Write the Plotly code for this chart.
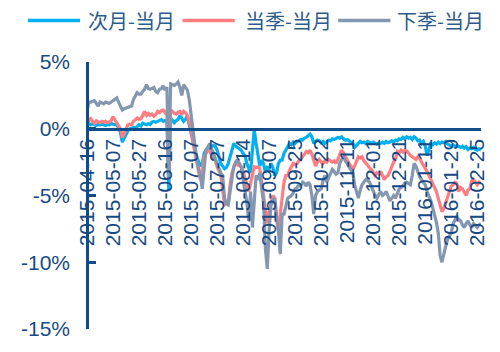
import pandas as pd
import plotly.graph_objects as go

# Trading calendar (SSE/CFFEX), market holidays removed
holidays = ["2015-05-01", "2015-06-22", "2015-09-03", "2015-09-04",
            "2015-10-01", "2015-10-02", "2015-10-05", "2015-10-06", "2015-10-07",
            "2016-01-01", "2016-02-08", "2016-02-09", "2016-02-10", "2016-02-11",
            "2016-02-12"]
dates = [d.strftime("%Y-%m-%d") for d in pd.bdate_range("2015-04-16", "2016-02-29")
         if d.strftime("%Y-%m-%d") not in holidays]

x_tick_labels = ["2015-04-16", "2015-05-07", "2015-05-27", "2015-06-16", "2015-07-07",
                 "2015-07-27", "2015-08-14", "2015-09-07", "2015-09-25", "2015-10-22",
                 "2015-11-11", "2015-12-01", "2015-12-21", "2016-01-11", "2016-01-29",
                 "2016-02-25"]
y_tick_vals = [5, 0, -5, -10, -15]
y_tick_text = ["5%", "0%", "-5%", "-10%", "-15%"]

series_names = ["次月-当月", "当季-当月", "下季-当月"]

# Calendar spreads, % of front-month price
next_month = [
    0.45, 0.35, 0.3, 0.38, 0.3, 0.25, 0.32, 0.28, 0.35, 0.3,
    0.25, 0.32, 0.3, 0.38, 0.35, 0.3, 0.28, 0.1, -0.3, -1.0,
    -0.7, -0.35, -0.15, 0.0, 0.05, 0.1, 0.05, 0.2, 0.3, 0.2,
    0.42, 0.35, 0.3, 0.38, 0.32, 0.5, 0.55, 0.48, 0.55, 0.6,
    0.68, 0.55, 0.62, 0.55, -4.6, 0.8, 0.65, 0.45, 0.6, 0.7,
    1.0, 0.75, 0.55, 0.7, 1.0, 0.3, -0.4, -1.1, -1.6, -2.1,
    -2.5, -2.8, -2.6, -1.85, -1.6, -1.4, -1.5, -1.4, -1.25, -1.3,
    -1.6, -2.1, -2.6, -2.8, -3.0, -2.9, -2.6, -2.1, -1.6, -1.1,
    -1.3, -1.4, -1.5, -1.6, -1.85, -2.0, -2.6, -3.0, -3.3, -1.6,
    -0.05, -1.1, -2.0, -2.8, -2.35, -2.6, -3.3, -2.9, -3.0, -2.6,
    -2.9, -3.5, -3.3, -2.6, -2.35, -2.35, -1.85, -1.6, -1.4, -1.1,
    -1.2, -1.0, -1.1, -0.95, -0.9, -0.8, -0.85, -0.7, -0.65, -0.55,
    -0.4, -0.6, -1.1, -0.95, -0.85, -0.9, -1.05, -0.95, -1.1, -1.0,
    -0.85, -0.9, -0.75, -0.8, -0.7, -0.65, -0.7, -0.6, -0.75, -0.85,
    -0.8, -0.9, -1.0, -1.1, -1.4, -1.2, -1.1, -0.95, -1.05, -1.0,
    -1.1, -0.95, -1.05, -1.1, -1.0, -1.05, -1.15, -1.05, -1.1, -1.0,
    -1.1, -0.95, -1.05, -1.0, -0.9, -1.0, -0.85, -0.9, -0.75, -0.8,
    -0.65, -0.75, -0.6, -0.7, -0.65, -0.8, -0.6, -0.7, -0.9, -0.85,
    -1.1, -0.95, -1.3, -2.0, -1.6, -1.1, -1.2, -1.05, -1.15, -1.0,
    -1.1, -1.0, -1.05, -0.95, -1.15, -1.2, -1.3, -1.2, -1.35, -1.25,
    -1.3, -1.4, -1.3, -1.45, -1.35, -1.55, -1.45, -1.5, -1.4, -1.55,
    -1.6, -1.5, -1.6,
]

current_quarter = [
    0.9, 0.6, 0.75, 0.55, 0.4, 0.6, 0.55, 0.45, 0.55, 0.5,
    0.55, 0.45, 0.5, 0.6, 0.9, 0.7, 0.5, 0.3, 0.0, -0.65,
    -0.4, 0.0, 0.3, 0.35, 0.3, 0.55, 0.65, 0.8, 0.7, 0.75,
    1.0, 1.3, 1.0, 1.15, 1.0, 1.1, 0.95, 1.05, 1.3, 1.2,
    1.35, 1.4, 1.2, 1.3, -3.8, 1.4, 1.3, 1.15, 1.1, 1.25,
    1.3, 1.05, 1.3, 1.2, 1.0, 0.6, 0.07, -1.0, -1.85, -2.6,
    -3.2, -3.8, -3.3, -2.1, -1.8, -1.6, -1.7, -1.9, -2.1, -2.4,
    -2.85, -3.2, -3.5, -4.6, -5.7, -5.6, -5.5, -4.2, -3.3, -2.9,
    -2.6, -2.7, -2.8, -2.85, -3.2, -3.8, -4.2, -4.7, -4.2, -3.5,
    -2.85, -2.9, -2.85, -3.0, -4.0, -5.2, -6.3, -7.1, -6.2, -5.5,
    -5.0, -5.2, -6.8, -7.6, -6.4, -4.7, -4.0, -3.5, -3.5, -3.1,
    -2.8, -2.6, -2.7, -2.6, -2.4, -2.3, -2.1, -1.9, -1.7, -1.8,
    -1.6, -1.9, -2.3, -2.8, -2.5, -2.3, -2.5, -2.6, -2.4, -2.5,
    -2.3, -2.4, -2.5, -2.4, -2.6, -2.3, -2.0, -1.6, -1.8, -2.1,
    -2.4, -2.6, -2.8, -3.05, -2.8, -2.5, -2.1, -2.2, -2.1, -2.4,
    -2.6, -2.8, -2.9, -3.05, -3.3, -3.5, -3.3, -3.4, -3.2, -3.5,
    -3.8, -3.6, -3.5, -3.2, -2.8, -2.5, -2.3, -1.7, -1.8, -1.6,
    -1.75, -1.6, -1.65, -1.85, -2.0, -2.1, -2.2, -2.3, -2.1, -2.2,
    -2.5, -2.7, -2.9, -3.2, -3.5, -3.8, -4.0, -4.3, -4.7, -5.2,
    -5.8, -6.2, -6.0, -5.5, -5.0, -4.7, -4.3, -4.2, -4.0, -4.1,
    -4.7, -4.4, -4.5, -4.8, -5.0, -4.6, -4.5, -3.9, -3.8, -4.0,
    -4.2, -4.0, -4.1,
]

next_quarter = [
    1.3, 2.0, 2.0, 2.05, 2.1, 1.9, 1.7, 2.0, 1.95, 1.87,
    2.0, 1.95, 1.9, 2.0, 2.1, 2.2, 2.3, 2.0, 1.75, 1.4,
    1.5, 1.55, 1.6, 1.65, 1.7, 2.2, 2.4, 2.7, 2.6, 2.6,
    2.8, 2.95, 3.3, 3.0, 2.95, 3.05, 3.1, 2.8, 2.7, 2.95,
    3.0, 3.2, 2.9, 3.1, -3.7, 3.35, 3.3, 3.25, 3.35, 3.5,
    3.1, 2.5, 3.3, 3.1, 2.9, 2.2, 1.0, -0.4, -1.1, -2.3,
    -2.9, -3.5, -4.5, -2.8, -1.6, -1.4, -1.1, -1.5, -1.85, -2.2,
    -2.6, -3.0, -3.3, -3.5, -5.2, -5.6, -5.7, -4.7, -3.5, -2.8,
    -2.5, -2.3, -2.6, -2.85, -3.8, -4.5, -5.5, -6.9, -4.7, -7.4,
    -5.2, -3.5, -3.8, -3.3, -4.5, -5.5, -9.0, -10.5, -7.6, -5.7,
    -5.4, -5.2, -6.5, -7.6, -9.4, -6.4, -6.4, -5.8, -5.2, -5.1,
    -5.0, -4.8, -4.5, -4.4, -4.2, -4.3, -4.0, -4.1, -4.3, -4.0,
    -4.2, -5.0, -6.4, -5.0, -4.7, -4.6, -4.5, -3.9, -3.5, -4.0,
    -3.7, -3.3, -3.05, -3.2, -3.4, -3.3, -2.6, -2.3, -2.1, -2.4,
    -2.6, -2.8, -3.1, -3.3, -4.2, -4.7, -5.2, -4.6, -4.2, -4.0,
    -3.8, -3.9, -4.0, -4.3, -4.7, -5.0, -5.2, -4.9, -4.7, -5.0,
    -4.9, -4.7, -5.1, -5.4, -5.2, -5.0, -5.2, -4.9, -4.5, -4.4,
    -4.2, -4.1, -4.0, -4.1, -4.2, -3.5, -2.6, -2.8, -3.3, -3.6,
    -3.8, -4.0, -4.2, -4.7, -5.0, -5.4, -5.9, -6.4, -7.0, -7.8,
    -9.5, -10.0, -9.3, -8.8, -8.3, -8.0, -7.8, -7.1, -6.9, -6.6,
    -6.8, -6.9, -7.2, -7.4, -7.1, -6.9, -7.2, -7.4, -7.1, -7.3,
    -7.4, -7.2, -7.1,
]

colors = ["#00B0F0", "#FF7C80", "#8497B0"]
AXIS = "#0F4C8A"
TEXT = "#174A84"
LEGEND_TEXT = "#2E5C8A"
LATIN = "Arial, 'Liberation Sans', sans-serif"
CJK = "'Noto Sans CJK SC', sans-serif"

fig = go.Figure()
for name, vals, c in zip(series_names, [next_month, current_quarter, next_quarter], colors):
    fig.add_trace(go.Scatter(x=dates, y=vals, mode="lines", name=name,
                             line=dict(color=c, width=3.2), showlegend=False))

fig.update_layout(
    width=500, height=352,
    margin=dict(l=87, r=13, t=62, b=13),
    paper_bgcolor="white", plot_bgcolor="white",
    xaxis=dict(
        type="category", range=[0, len(dates) - 1],
        tickmode="array", tickvals=x_tick_labels, ticktext=x_tick_labels,
        tickangle=-90, tickfont=dict(family=LATIN, size=21, color=TEXT),
        anchor="free", position=0.75,
        showline=True, linecolor=AXIS, linewidth=2.5,
        ticks="", showgrid=False, zeroline=False, layer="above traces",
    ),
    yaxis=dict(
        range=[-15, 5], tickmode="array", tickvals=y_tick_vals, ticktext=y_tick_text,
        tickfont=dict(family=LATIN, size=21, color=TEXT),
        anchor="free", position=0,
        ticks="inside", ticklen=7, tickwidth=2.5, tickcolor=AXIS,
        ticklabelstandoff=12,
        showline=True, linecolor=AXIS, linewidth=2.5,
        showgrid=False, zeroline=False, layer="above traces",
    ),
)

# Legend row drawn in paper coordinates above the plot
def px_x(x):
    return (x - 87) / 400.0

def px_y(y):
    return (339 - y) / 277.0

legend_items = [(27, 80, 86), (184, 237, 245), (342, 395, 400)]
for (x0, x1, tx), name, c in zip(legend_items, series_names, colors):
    fig.add_shape(type="line", xref="paper", yref="paper",
                  x0=px_x(x0), x1=px_x(x1), y0=px_y(19), y1=px_y(19),
                  line=dict(color=c, width=3.5))
    fig.add_annotation(xref="paper", yref="paper", x=px_x(tx), y=px_y(19),
                       text=name, showarrow=False, xanchor="left", yanchor="middle",
                       font=dict(family=CJK, size=20, color=LEGEND_TEXT))

fig.write_html("out.html")
